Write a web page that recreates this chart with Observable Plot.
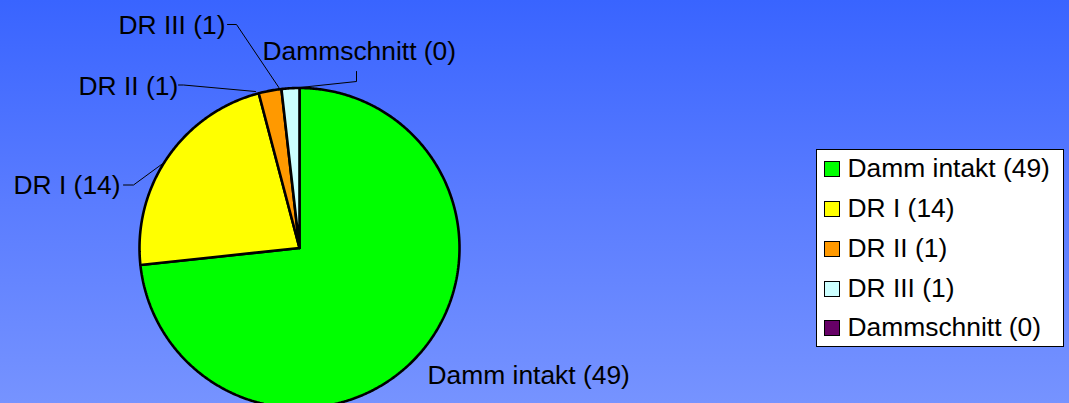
<!DOCTYPE html>
<html>
<head>
<meta charset="utf-8">
<script src="https://cdn.jsdelivr.net/npm/d3@7"></script>
<script src="https://cdn.jsdelivr.net/npm/@observablehq/plot@0.6"></script>
<style>
  html, body { margin: 0; padding: 0; }
  #wrap { position: relative; width: 1069px; height: 403px; overflow: hidden; font-family: "Liberation Sans", Arial, sans-serif; }
  #legend { position: absolute; left: 816px; top: 149px; width: 248px; height: 198px; box-sizing: border-box; border: 1px solid #000; background: #fff; }
  .sw { position: absolute; width: 16px; height: 16px; box-sizing: border-box; border: 1.5px solid #000; }
  .lt { position: absolute; white-space: nowrap; color: #000; }
</style>
</head>
<body>
<div id="wrap"></div>
<script>
// ---- data ----
const categories = ["Damm intakt", "DR I", "DR II", "DR III", "Dammschnitt"];
const counts = [49, 14, 1, 1, 0];
// slice sizes (percent of the circle)
const sliceShare = [73.3, 22.6, 2.3, 1.8, 0];
const colors = ["#00FF00", "#FFFF00", "#FF9900", "#CCFFFF", "#660066"];

// ---- layout ----
const W = 1069, H = 403;
const CX = 299, CY = 247.5, R = 160;
const FONT = '"Liberation Sans", Arial, sans-serif';
const FS = 26.4;
// label placement (pixels: left x, baseline y) and leader polylines
const labelLayout = [
  {x: 427, y: 383, leader: null},
  {x: 13, y: 193, leader: [[123, 184.5], [133, 184.5], [163, 162.5]]},
  {x: 78, y: 94, leader: [[178, 84.5], [183, 84.5], [255, 91]]},
  {x: 118, y: 33, leader: [[227, 24], [236, 24], [279, 88]]},
  {x: 262, y: 59, leader: [[356, 71], [356, 81], [290, 88]]}
];
const ux = px => (px - CX) / R;
const uy = py => (CY - py) / R;

const labelText = categories.map((c, i) => `${c} (${counts[i]})`);

// ---- pie slices ----
const arcs = d3.pie().sort(null).value(d => d)(sliceShare);
const slicePts = [];
arcs.forEach((a, i) => {
  if (sliceShare[i] <= 0) return;
  const n = Math.max(2, Math.ceil((a.endAngle - a.startAngle) / (Math.PI / 360)));
  slicePts.push({k: i, x: 0, y: 0, c: colors[i]});
  for (let j = 0; j <= n; j++) {
    const t = a.startAngle + (a.endAngle - a.startAngle) * j / n;
    slicePts.push({k: i, x: Math.sin(t), y: Math.cos(t), c: colors[i]});
  }
  slicePts.push({k: i, x: 0, y: 0, c: colors[i]});
});

const leaderPts = [];
labelLayout.forEach((l, i) => {
  if (!l.leader) return;
  l.leader.forEach(p => leaderPts.push({k: i, x: ux(p[0]), y: uy(p[1])}));
});

const labels = labelLayout.map((l, i) => ({x: ux(l.x), y: uy(l.y - 0.32 * FS), t: labelText[i]}));

const chart = Plot.plot({
  width: W,
  height: H,
  margin: 0,
  style: {background: "linear-gradient(to bottom, #3964FF 0%, #5A7CFF 50%, #7693FF 100%)", fontFamily: FONT},
  x: {domain: [-1, 1], range: [CX - R, CX + R], axis: null},
  y: {domain: [-1, 1], range: [CY + R, CY - R], axis: null},
  color: {type: "identity"},
  marks: [
    Plot.line(slicePts, {x: "x", y: "y", z: "k", fill: "c", stroke: "black", strokeWidth: 2.6, curve: "linear", strokeLinejoin: "miter"}),
    Plot.line(leaderPts, {x: "x", y: "y", z: "k", stroke: "black", strokeWidth: 1}),
    Plot.text(labels, {x: "x", y: "y", text: "t", textAnchor: "start", fontSize: FS, fontFamily: FONT, fill: "black"})
  ]
});
const wrap = document.getElementById("wrap");
wrap.appendChild(chart);

// ---- legend ----
const legend = document.createElement("div");
legend.id = "legend";
wrap.appendChild(legend);
const step = 39.85;
const baseOff = 0.905 * FS - (1.117 * FS - FS) / 2;
categories.forEach((c, i) => {
  const sw = document.createElement("div");
  sw.className = "sw";
  sw.style.left = (824 - 817) + "px";
  sw.style.top = (161 + i * step - 150) + "px";
  sw.style.background = colors[i];
  legend.appendChild(sw);
  const t = document.createElement("div");
  t.className = "lt";
  t.style.fontSize = FS + "px";
  t.style.lineHeight = FS + "px";
  t.textContent = labelText[i];
  t.style.left = (847.5 - 817) + "px";
  t.style.top = (177.3 + i * step - baseOff - 150) + "px";
  legend.appendChild(t);
});
</script>
</body>
</html>
